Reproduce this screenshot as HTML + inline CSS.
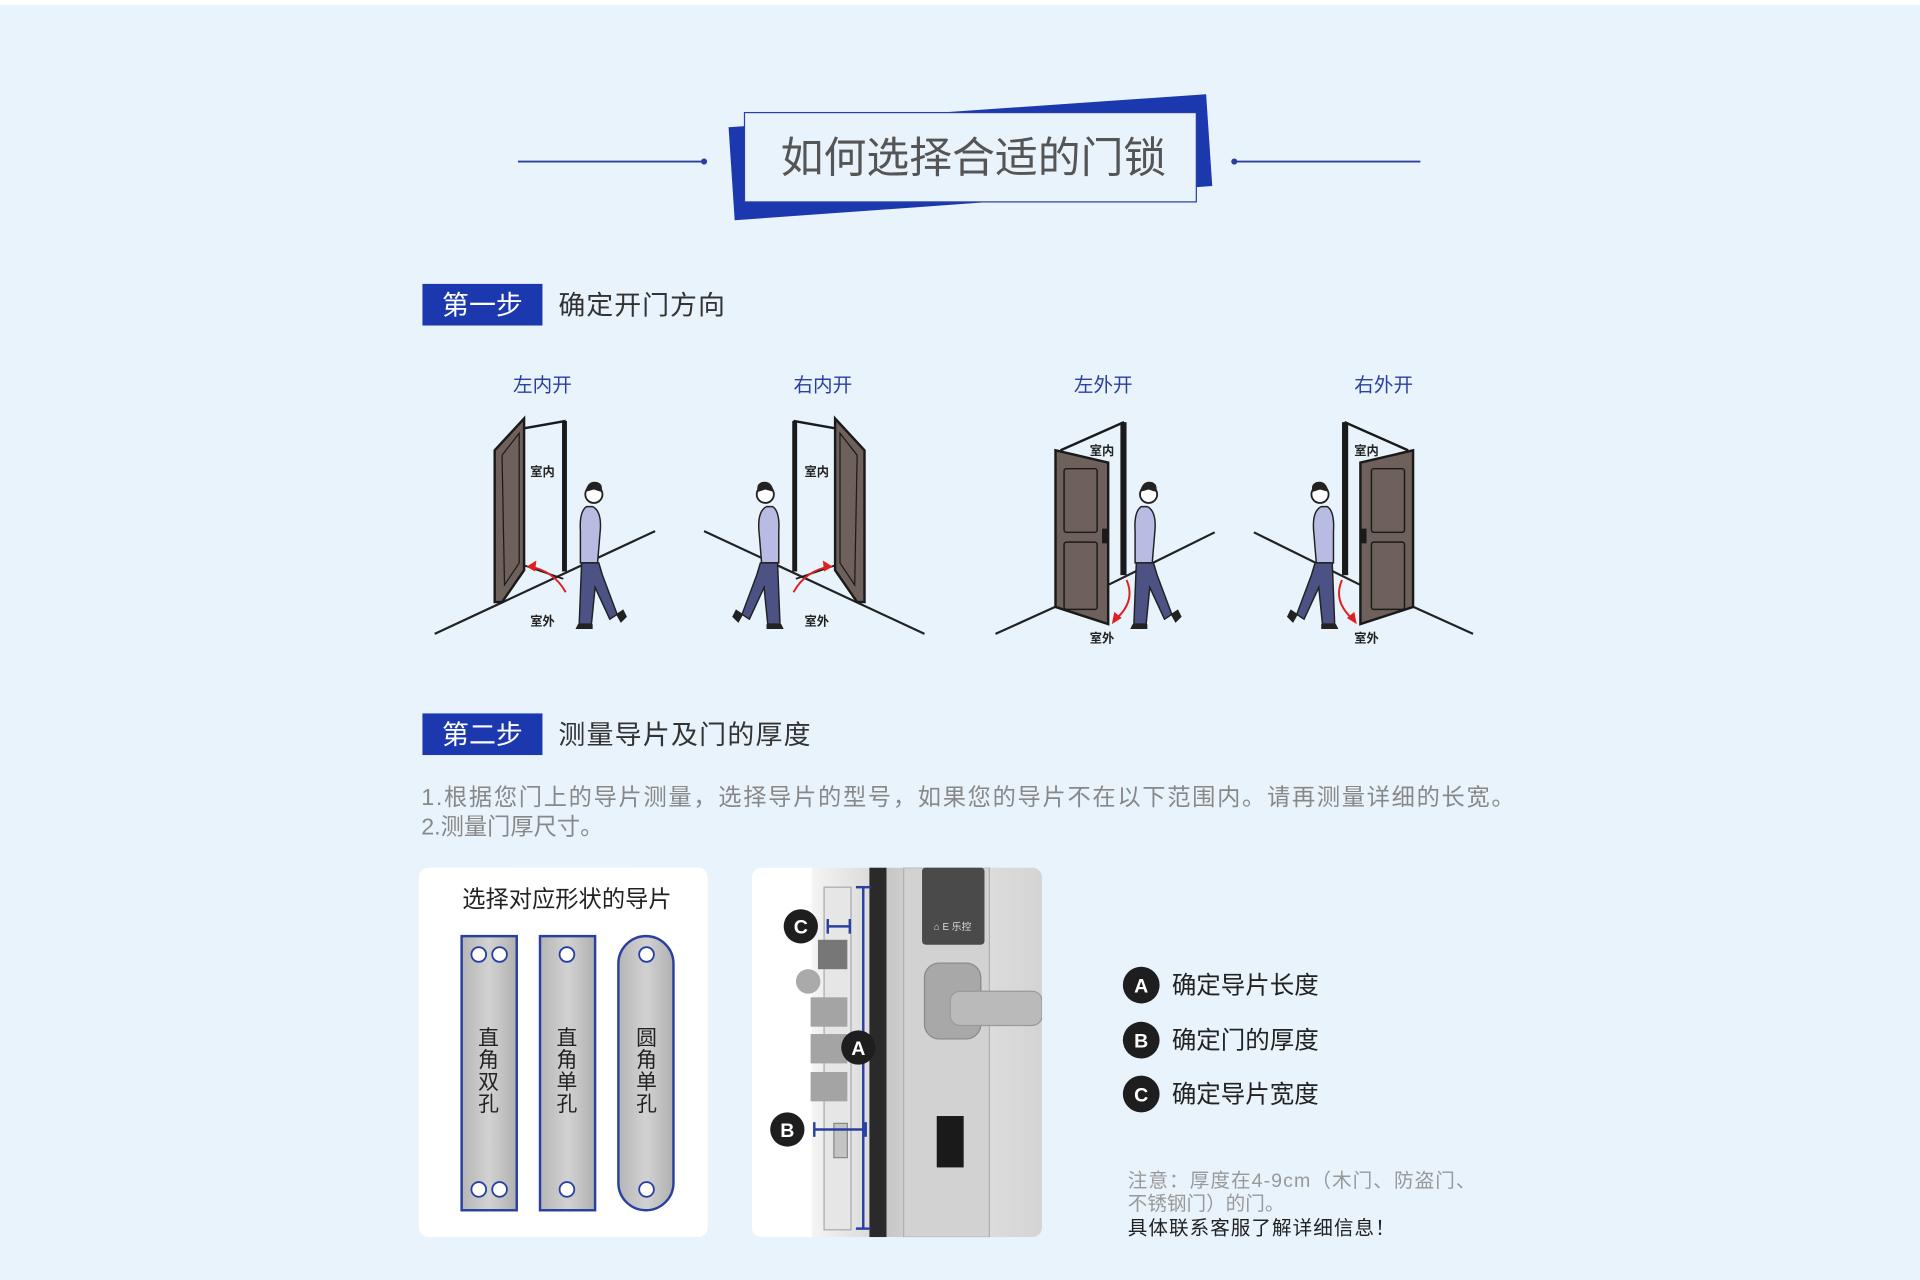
<!DOCTYPE html>
<html><head><meta charset="utf-8"><style>
html,body{margin:0;padding:0;background:#e8f3fc;}
svg{display:block}
text{font-family:"Liberation Sans","Noto Sans CJK SC",sans-serif;}
</style></head><body>
<svg width="1920" height="1280" viewBox="0 0 1568 1046" preserveAspectRatio="none" xmlns="http://www.w3.org/2000/svg">
<defs>
<linearGradient id="steel" x1="0" x2="1" y1="0" y2="0">
<stop offset="0" stop-color="#b5b5b5"/><stop offset="0.5" stop-color="#d2d2d2"/><stop offset="1" stop-color="#b0b0b0"/></linearGradient>
<linearGradient id="body" x1="0" x2="1"><stop offset="0" stop-color="#c6c6c6"/><stop offset="0.4" stop-color="#e2e2e2"/><stop offset="1" stop-color="#d4d4d4"/></linearGradient>
<linearGradient id="plate" x1="0" x2="1"><stop offset="0" stop-color="#f4f4f4"/><stop offset="1" stop-color="#dcdcdc"/></linearGradient>
<g id="person">
<circle cx="0" cy="-96" r="7" fill="#fff" stroke="#222" stroke-width="1.5"/>
<path d="M-7,-98 q2,-10 10,-8 q5,2 3,8 l-6,-2 z" fill="#222"/>
<path d="M-6,-86 q-6,4 -5,20 l0,26 l14,0 l2,-24 q2,-18 -6,-22 z" fill="#b8bbe2" stroke="#222" stroke-width="1.2"/>
<path d="M-10,-40 l-2,50 l10,0 l3,-30 l12,26 l6,-4 l-12,-32 l-3,-10 z" fill="#4c5283" stroke="#222" stroke-width="1.2"/>
<path d="M-13,10 l12,0 l0,4 l-14,0 z M18,2 l6,-4 l3,6 l-5,5 z" fill="#222"/>
</g>
<g id="fig1">
<line x1="355" y1="518" x2="535" y2="434" stroke="#222" stroke-width="1.8"/>
<polygon points="404,368 428,342 428,466 410,492 404,492" fill="#6e605a" stroke="#1a1a1a" stroke-width="2"/>
<polygon points="410,372 424,354 424,460 412,478" fill="none" stroke="#1a1a1a" stroke-width="1"/>
<line x1="428" y1="350" x2="462" y2="344" stroke="#1a1a1a" stroke-width="2"/>
<rect x="459" y="344" width="4" height="123" fill="#1a1a1a"/>
<line x1="428" y1="462" x2="460" y2="473" stroke="#1a1a1a" stroke-width="1.5"/>
<path d="M462,484 Q452,466 432,463" fill="none" stroke="#e02020" stroke-width="1.6"/>
<polygon points="430,463 438,458 437,467" fill="#e02020"/>
<use href="#person" transform="translate(485,500)"/>
</g>
<g id="fig3">
<line x1="813" y1="518" x2="866" y2="494" stroke="#222" stroke-width="1.8"/>
<line x1="905" y1="478" x2="992" y2="435" stroke="#222" stroke-width="1.8"/>
<line x1="866" y1="368" x2="918" y2="345" stroke="#1a1a1a" stroke-width="2"/>
<rect x="915" y="345" width="5" height="125" fill="#1a1a1a"/>
<polygon points="862,368 905,378 905,510 862,496" fill="#6e605a" stroke="#1a1a1a" stroke-width="2"/>
<rect x="869" y="383" width="27" height="52" rx="2" fill="none" stroke="#1a1a1a" stroke-width="1.2"/>
<rect x="869" y="443" width="27" height="55" rx="2" fill="none" stroke="#1a1a1a" stroke-width="1.2"/>
<rect x="900" y="432" width="5" height="12" fill="#1a1a1a"/>
<path d="M920,474 Q928,492 910,507" fill="none" stroke="#e02020" stroke-width="1.6"/>
<polygon points="908,510 910,500 916,505" fill="#e02020"/>
<use href="#person" transform="translate(938,500)"/>
</g>
</defs>
<rect x="0" y="0" width="1568" height="4" fill="#fff"/>
<!-- title -->
<line x1="423" y1="132" x2="575" y2="132" stroke="#2a40a0" stroke-width="1.5"/>
<circle cx="575" cy="132" r="2.5" fill="#2a40a0"/>
<line x1="1008" y1="132" x2="1160" y2="132" stroke="#2a40a0" stroke-width="1.5"/>
<circle cx="1008" cy="132" r="2.5" fill="#2a40a0"/>
<polygon points="595,104 985,77 990,152 600,180" fill="#1b38ae"/>
<rect x="608" y="92" width="369" height="73" fill="#e8f3fc" stroke="#2a40a0" stroke-width="1"/>
<text x="795" y="141" font-size="35" fill="#555" text-anchor="middle">如何选择合适的门锁</text>
<!-- step1 -->
<rect x="345" y="232" width="98" height="34" fill="#1b38ae"/>
<text x="394" y="257" font-size="22" fill="#fff" text-anchor="middle">第一步</text>
<text x="456" y="257" font-size="22" fill="#333" textLength="136">确定开门方向</text>
<g font-size="16" fill="#2a40a0" text-anchor="middle">
<text x="443" y="320">左内开</text><text x="672" y="320">右内开</text><text x="901" y="320">左外开</text><text x="1130" y="320">右外开</text></g>
<use href="#fig1"/>
<use href="#fig1" transform="translate(1110,0) scale(-1,1)"/>
<use href="#fig3"/>
<use href="#fig3" transform="translate(2016,0) scale(-1,1)"/>
<g font-size="10" font-weight="bold" fill="#222" text-anchor="middle">
<text x="443" y="389">室内</text><text x="443" y="511">室外</text>
<text x="667" y="389">室内</text><text x="667" y="511">室外</text>
<text x="900" y="372">室内</text><text x="900" y="525">室外</text>
<text x="1116" y="372">室内</text><text x="1116" y="525">室外</text></g>
<!-- step2 -->
<rect x="345" y="583" width="98" height="34" fill="#1b38ae"/>
<text x="394" y="608" font-size="22" fill="#fff" text-anchor="middle">第二步</text>
<text x="456" y="608" font-size="22" fill="#333" textLength="206">测量导片及门的厚度</text>
<text x="344" y="658" font-size="19" fill="#888" textLength="893">1.根据您门上的导片测量，选择导片的型号，如果您的导片不在以下范围内。请再测量详细的长宽。</text>
<text x="344" y="682" font-size="19" fill="#888">2.测量门厚尺寸。</text>
<!-- left card -->
<rect x="342" y="709" width="236" height="302" rx="8" fill="#fff"/>
<text x="463" y="741" font-size="19" fill="#222" text-anchor="middle">选择对应形状的导片</text>
<rect x="377" y="765" width="45" height="224" fill="url(#steel)" stroke="#2a40a0" stroke-width="2"/>
<rect x="441" y="765" width="45" height="224" fill="url(#steel)" stroke="#2a40a0" stroke-width="2"/>
<rect x="505" y="765" width="45" height="224" rx="22.5" fill="url(#steel)" stroke="#2a40a0" stroke-width="2"/>
<g fill="#fff" stroke="#2a40a0" stroke-width="1.5">
<circle cx="391" cy="780" r="6"/><circle cx="408" cy="780" r="6"/><circle cx="391" cy="972" r="6"/><circle cx="408" cy="972" r="6"/>
<circle cx="463" cy="780" r="6"/><circle cx="463" cy="972" r="6"/><circle cx="528" cy="780" r="6"/><circle cx="528" cy="972" r="6"/></g>
<g font-size="17" fill="#222" text-anchor="middle">
<text x="399" y="854">直</text><text x="399" y="872">角</text><text x="399" y="890">双</text><text x="399" y="908">孔</text>
<text x="463" y="854">直</text><text x="463" y="872">角</text><text x="463" y="890">单</text><text x="463" y="908">孔</text>
<text x="528" y="854">圆</text><text x="528" y="872">角</text><text x="528" y="890">单</text><text x="528" y="908">孔</text></g>
<!-- right card -->
<clipPath id="rc"><rect x="614" y="709" width="237" height="302" rx="8"/></clipPath>
<g clip-path="url(#rc)">
<rect x="614" y="709" width="237" height="302" fill="#fff"/>
<rect x="663" y="709" width="47" height="302" fill="url(#plate)"/>
<rect x="673" y="725" width="22" height="280" fill="#e6e6e6" stroke="#aaa" stroke-width="1"/>
<rect x="710" y="709" width="14" height="302" fill="#2a2a2a"/>
<rect x="724" y="709" width="127" height="302" fill="url(#body)"/>
<rect x="738" y="709" width="70" height="302" fill="#d2d2d2" stroke="#b0b0b0"/>
<rect x="753" y="709" width="51" height="63" rx="3" fill="#4a4a4a"/>
<text x="778" y="760" font-size="8" fill="#ddd" text-anchor="middle">⌂ E 乐控</text>
<rect x="755" y="787" width="46" height="62" rx="12" fill="#a8a8a8" stroke="#888"/>
<rect x="776" y="810" width="75" height="28" rx="8" fill="#bababa" stroke="#999"/>
<rect x="765" y="912" width="22" height="42" fill="#1a1a1a"/>
<circle cx="660" cy="802" r="10" fill="#aaa"/>
<rect x="668" y="768" width="24" height="24" fill="#777"/>
<rect x="662" y="815" width="30" height="24" fill="#a4a4a4"/>
<rect x="662" y="845" width="30" height="24" fill="#a4a4a4"/>
<rect x="662" y="876" width="30" height="24" fill="#a4a4a4"/>
<rect x="681" y="918" width="11" height="28" fill="#c4c4c4" stroke="#888"/>
</g>
<g stroke="#2a40a0" stroke-width="2">
<line x1="705" y1="725" x2="705" y2="1004"/><line x1="699" y1="725" x2="711" y2="725"/><line x1="699" y1="1004" x2="711" y2="1004"/>
<line x1="676" y1="757" x2="694" y2="757"/><line x1="676" y1="751" x2="676" y2="763"/><line x1="694" y1="751" x2="694" y2="763"/>
<line x1="665" y1="923" x2="707" y2="923"/><line x1="665" y1="917" x2="665" y2="929"/><line x1="707" y1="917" x2="707" y2="929"/></g>
<g fill="#1e1e1e"><circle cx="654" cy="757" r="14"/><circle cx="701" cy="856" r="14"/><circle cx="643" cy="923" r="14"/></g>
<g font-size="16" font-weight="bold" fill="#fff" text-anchor="middle">
<text x="654" y="763">C</text><text x="701" y="862">A</text><text x="643" y="929">B</text></g>
<!-- legend -->
<g fill="#1e1e1e"><circle cx="932" cy="805" r="15"/><circle cx="932" cy="850" r="15"/><circle cx="932" cy="894" r="15"/></g>
<g font-size="16" font-weight="bold" fill="#fff" text-anchor="middle">
<text x="932" y="811">A</text><text x="932" y="856">B</text><text x="932" y="900">C</text></g>
<g font-size="20" fill="#222">
<text x="957" y="812">确定导片长度</text><text x="957" y="857">确定门的厚度</text><text x="957" y="901">确定导片宽度</text></g>
<text x="921" y="970" font-size="16" fill="#999" textLength="284">注意：厚度在4-9cm（木门、防盗门、</text>
<text x="921" y="989" font-size="16" fill="#999">不锈钢门）的门。</text>
<text x="921" y="1009" font-size="16" fill="#222" textLength="218">具体联系客服了解详细信息！</text>
</svg>
</body></html>
